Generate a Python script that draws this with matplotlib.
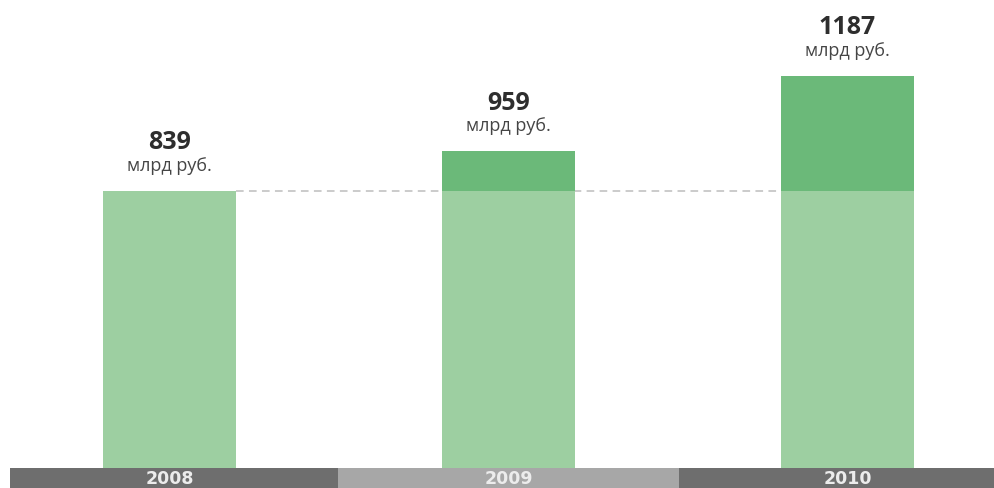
import matplotlib
matplotlib.use("Agg")
import matplotlib.pyplot as plt
import numpy as np

# Data
years = ["2008", "2009", "2010"]
values = [839, 959, 1187]          # млрд руб.
base_value = 839                   # reference level (2008)
unit_label = "млрд руб."

# Style
light_green = "#9dcfa1"
dark_green = "#6bb979"
band_colors = ["#6e6e6e", "#a7a7a7", "#6e6e6e"]
text_dark = "#2e2e2e"
text_unit = "#454545"

fig = plt.figure(figsize=(9.95, 4.88), dpi=100)
ax = fig.add_axes([0, 0, 1, 1])
ax.set_xlim(-0.5, 2.435)
ax.set_ylim(-60.6, 1417)
ax.axis("off")

x = np.arange(len(years))
bar_w = 0.392

# lower (base) part of each bar and the increment above the base level
lower = [min(v, base_value) for v in values]
upper = [max(v - base_value, 0) for v in values]
ax.bar(x, lower, width=bar_w, color=light_green, zorder=3, linewidth=0)
ax.bar(x, upper, bottom=lower, width=bar_w, color=dark_green, zorder=3, linewidth=0)

# dashed reference line at the 2008 level
ax.plot([x[0] + bar_w / 2, x[-1] - bar_w / 2], [base_value, base_value],
        color="#bdbdbd", lw=1.1, dashes=(5, 3.5), zorder=2)

# value labels
for xi, v in zip(x, values):
    ax.annotate(str(v), (xi, v), xytext=(0, 30), textcoords="offset points",
                ha="center", va="baseline", fontsize=18, fontweight="bold",
                family="Open Sans", color=text_dark)
    ax.annotate(unit_label, (xi, v), xytext=(0, 14.5), textcoords="offset points",
                ha="center", va="baseline", fontsize=13,
                family="Open Sans", color=text_unit)

# year band along the bottom
band_h = 60.6
lefts = [-0.4705, 0.497, 1.503]
rights = [0.497, 1.503, 2.5]
for l, r, c in zip(lefts, rights, band_colors):
    ax.bar(l, -band_h, width=r - l, align="edge", color=c, linewidth=0, zorder=1)
for xi, yr in zip(x, years):
    ax.text(xi, -60.0, yr, ha="center", va="bottom", fontsize=12.5,
            fontweight="bold", family="DejaVu Sans", color="#ececec", zorder=4)

fig.savefig("out.png", dpi=100)
